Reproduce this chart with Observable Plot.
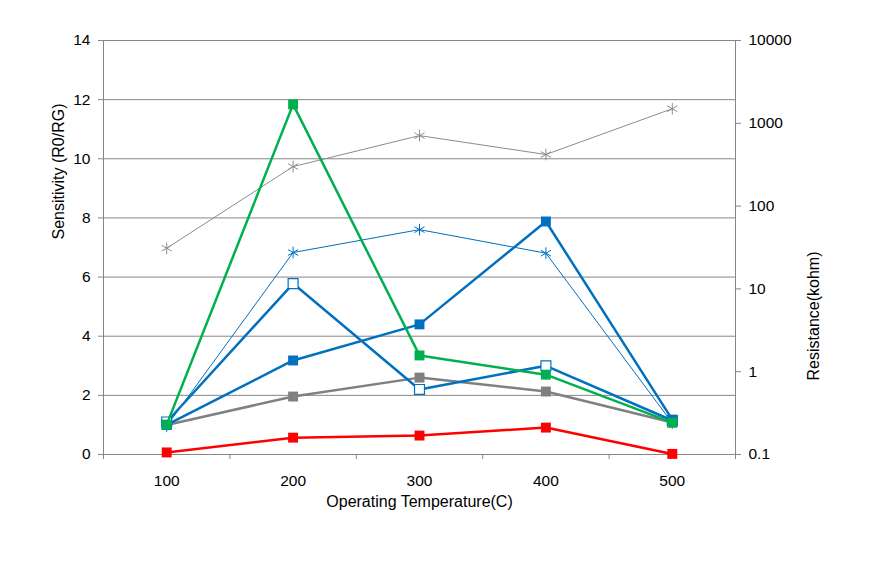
<!DOCTYPE html>
<html>
<head>
<meta charset="utf-8">
<script src="https://cdn.jsdelivr.net/npm/d3@7"></script>
<script src="https://cdn.jsdelivr.net/npm/@observablehq/plot@0.6"></script>
<style>
  html, body { margin: 0; padding: 0; background: #fff; }
  #chart { width: 871px; height: 569px; }
</style>
</head>
<body>
<div id="chart"></div>
<script>
// ---- data ----
const temps = [100, 200, 300, 400, 500];
const greenSens = [1.01, 11.84, 3.35, 2.7, 1.08];
const blueFilledSens = [1.0, 3.18, 4.4, 7.88, 1.18];
const blueOpenSens = [1.1, 5.78, 2.2, 3.0, 1.15];
const graySens = [1.0, 1.96, 2.6, 2.13, 1.08];
const redSens = [0.07, 0.57, 0.64, 0.91, 0.02];
const grayRes = [31, 300, 710, 420, 1500];      // kohm, right axis
const blueRes = [0.22, 27.5, 52, 27, 0.24];     // kohm, right axis
const leftTicks = [0, 2, 4, 6, 8, 10, 12, 14];
const rightTicks = [0.1, 1, 10, 100, 1000, 10000];
const boundaryTicks = [50, 150, 250, 350, 450, 550];

// map resistance (log, 0.1..10000) onto left scale 0..14
const resToY = r => (Math.log10(r) + 1) * 14 / 5;
const yToRes = y => { const k = Math.round(y * 5 / 14 - 1); return k < 0 ? "0.1" : String(10 ** k); };

const rows = (vals, conv = v => v) => temps.map((t, i) => ({t, v: conv(vals[i])}));

const grid = "#868686";
const font = "Liberation Sans, Arial, sans-serif";
const tickFs = 15.5;
const titleFs = 16;

const series = [
  {data: rows(grayRes, resToY), color: "#8c8c8c", width: 1, symbol: "asterisk", fill: "none"},
  {data: rows(blueRes, resToY), color: "#0070C0", width: 1, symbol: "asterisk", fill: "none"},
  {data: rows(graySens), color: "#808080", width: 2.5, symbol: "square", fill: "#808080"},
  {data: rows(redSens), color: "#FF0000", width: 2.5, symbol: "square", fill: "#FF0000"},
  {data: rows(blueOpenSens), color: "#0070C0", width: 2.5, symbol: "square", fill: "white"},
  {data: rows(blueFilledSens), color: "#0070C0", width: 2.5, symbol: "square", fill: "#0070C0"},
  {data: rows(greenSens), color: "#00B050", width: 2.5, symbol: "square", fill: "#00B050"}
];

const marks = [
  Plot.ruleY(leftTicks, {stroke: grid, strokeWidth: 1}),
  Plot.ruleX([50, 550], {stroke: grid, strokeWidth: 1}),
  Plot.axisY({ticks: leftTicks, tickSize: 5, tickPadding: 8, label: null, stroke: grid, fill: "black", fontSize: tickFs}),
  Plot.axisY({anchor: "right", ticks: rightTicks.map(resToY), tickFormat: yToRes, tickSize: 5, tickPadding: 8, label: null, stroke: grid, fill: "black", fontSize: tickFs, textAnchor: "start"}),
  Plot.axisX({ticks: temps, tickSize: 0, tickPadding: 20, label: null, fill: "black", fontSize: tickFs}),
  Plot.axisX({ticks: boundaryTicks, tickSize: 5, tickFormat: () => "", label: null, stroke: grid}),
  Plot.text(["Sensitivity (R0/RG)"], {frameAnchor: "left", dx: -45, dy: -8, rotate: -90, fontSize: titleFs, fill: "black"}),
  Plot.text(["Resistance(kohm)"], {frameAnchor: "right", dx: 78, dy: 4, rotate: -90, fontSize: titleFs, fill: "black"}),
  Plot.text(["Operating Temperature(C)"], {frameAnchor: "bottom", dy: 52, fontSize: titleFs, fill: "black"})
];

for (const s of series) {
  marks.push(Plot.line(s.data, {x: "t", y: "v", stroke: s.color, strokeWidth: s.width}));
  if (s.symbol === "square") {
    marks.push(Plot.dot(s.data, {x: "t", y: "v", symbol: "square", r: 5.6, fill: s.fill, stroke: s.color, strokeWidth: s.fill === "white" ? 1.2 : 0}));
  } else {
    marks.push(Plot.dot(s.data, {x: "t", y: "v", symbol: "asterisk", r: 5.5, stroke: s.color, strokeWidth: 1}));
  }
}

const chart = Plot.plot({
  width: 871,
  height: 569,
  marginLeft: 103,
  marginRight: 136,
  marginTop: 40,
  marginBottom: 115,
  style: {fontFamily: font, fontSize: "15px", background: "white", color: "black"},
  x: {type: "linear", domain: [50, 550]},
  y: {type: "linear", domain: [0, 14]},
  marks
});
document.getElementById("chart").appendChild(chart);
</script>
</body>
</html>
